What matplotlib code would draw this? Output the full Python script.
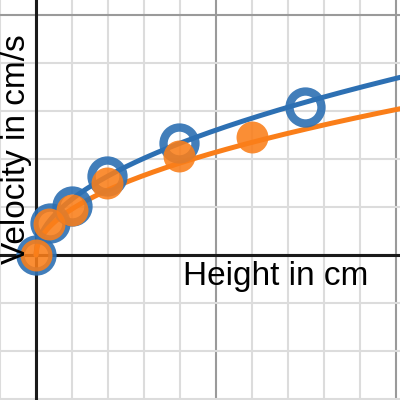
import numpy as np
import matplotlib
matplotlib.use("Agg")
import matplotlib.pyplot as plt

# measured points (height in cm, velocity)
blue_h = [0, 3.9, 10, 19.7, 39.7, 74.7]
blue_v = [0, 6.7, 10.2, 16.5, 23.3, 30.8]
orange_h = [0, 3.6, 10, 19.7, 39.7, 60]
orange_v = [0, 6.4, 9.4, 15.0, 20.6, 24.6]

# fitted curves v = a * h ** b
blue_fit = (3.68, 0.5)
orange_fit = (3.03, 0.5)

BLUE = "#2d70b3"
ORANGE = "#fa7e19"

fig = plt.figure(figsize=(4, 4), dpi=100)
ax = fig.add_axes([0, 0, 1, 1])
ax.set_xlim(-10, 364 / 3.6)
ax.set_ylim(-145 / 4.8, 255 / 4.8)
ax.axis("off")

x0, x1 = ax.get_xlim()
for gx in np.arange(-10, 110, 10):
    major = gx % 50 == 0
    ax.axvline(gx, color="#9a9a9a" if major else "#dcdcdc", lw=1.5, zorder=0)
for gy in np.arange(-30, 60, 10):
    major = gy % 50 == 0
    ax.axhline(gy, color="#9a9a9a" if major else "#dcdcdc", lw=1.5, zorder=0)
ax.axvline(0, color="#1a1a1a", lw=2.2, zorder=1)
ax.axhline(0, color="#1a1a1a", lw=2.2, zorder=1)

hh = np.linspace(0, x1, 400)
for (a, b), col in [(blue_fit, BLUE), (orange_fit, ORANGE)]:
    ax.plot(hh, a * hh ** b, color=col, lw=3.6, solid_capstyle="round", zorder=3)

ax.plot(blue_h, blue_v, "o", ms=23, mfc="none", mec=BLUE, mew=6, alpha=0.9, zorder=4)
ax.plot(orange_h, orange_v, "o", ms=23, mfc=ORANGE, mew=0, alpha=0.88, zorder=5)

ax.text(40.8, -1.2, "Height in cm", ha="left", va="top", fontsize=24,
        family="Liberation Sans", color="black", zorder=6)
ax.text(-9.7, -1.9, "Velocity in cm/s", ha="left", va="bottom",
        rotation=90, fontsize=24, family="Liberation Sans", color="black", zorder=6)

fig.savefig("out.png", dpi=100, facecolor="white")
